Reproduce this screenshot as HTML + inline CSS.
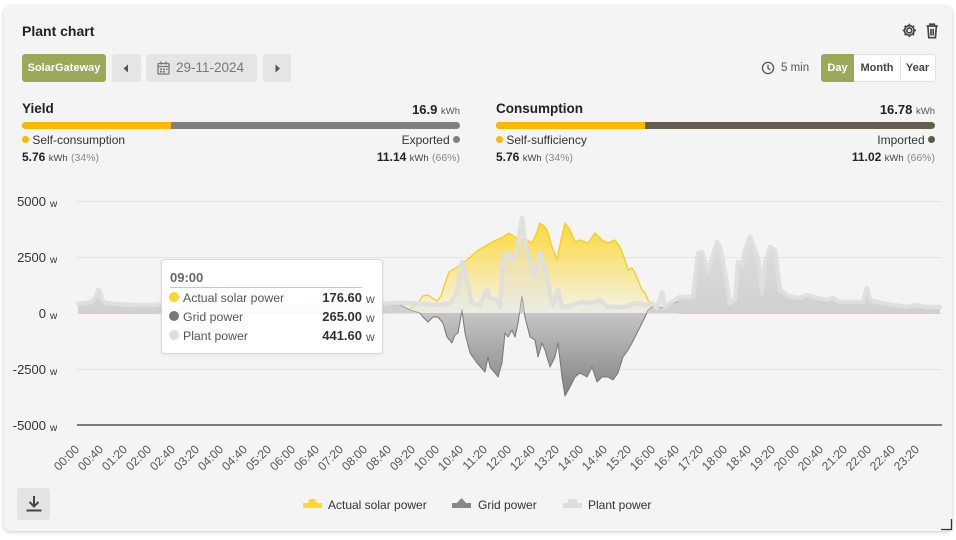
<!DOCTYPE html>
<html><head><meta charset="utf-8">
<style>
*{margin:0;padding:0;box-sizing:border-box}
body{width:956px;height:540px;background:#fff;font-family:"Liberation Sans",Arial,sans-serif;position:relative;overflow:hidden;color:#333}
.card{position:absolute;left:4px;top:6px;width:948px;height:525px;background:#f4f4f4;border-radius:7px;box-shadow:0 1px 4px rgba(0,0,0,0.22)}
.abs{position:absolute;white-space:nowrap}
.btn{position:absolute;top:54px;height:28px;border-radius:3px;background:#e5e5e5}
.b{font-weight:bold}
.dot{display:inline-block;width:7px;height:7px;border-radius:50%;vertical-align:1px}
</style></head><body>
<div class="card"></div>

<div class="abs b" style="left:22px;top:23px;font-size:14px;color:#222">Plant chart</div>
<svg class="abs" style="left:901px;top:22px" width="40" height="18" viewBox="0 0 36 16">
 <g fill="none" stroke="#444" stroke-width="1.5">
  <circle cx="7.5" cy="7.5" r="2.2"/>
  <path d="M7.5 1.5v2M7.5 11.5v2M1.5 7.5h2M11.5 7.5h2M3.3 3.3l1.4 1.4M10.3 10.3l1.4 1.4M3.3 11.7l1.4-1.4M10.3 4.7l1.4-1.4"/>
  <circle cx="7.5" cy="7.5" r="4.3"/>
  <path d="M23 3.5h10M26 3.5v-1.6h4v1.6M24.2 3.5l.8 10.5h6l.8-10.5M27 6v6M29 6v6"/>
 </g>
</svg>

<div class="btn" style="left:22px;width:84px;background:#9ca85a"></div>
<div class="abs b" style="left:22px;top:62px;width:84px;text-align:center;font-size:11px;color:#fff">SolarGateway</div>
<div class="btn" style="left:112px;width:29px"></div>
<svg class="abs" style="left:122px;top:64px" width="8" height="9"><path d="M6 0.5L1.5 4.5L6 8.5Z" fill="#555"/></svg>
<div class="btn" style="left:146px;width:111px"></div>
<svg class="abs" style="left:157px;top:61px" width="13" height="14" viewBox="0 0 13 14"><g fill="none" stroke="#777" stroke-width="1.3"><rect x="1" y="2.5" width="11" height="10.5" rx="1"/><path d="M1 5.5h11M4 0.5v3M9 0.5v3"/></g><g fill="#777"><rect x="3" y="7.5" width="2" height="1.6"/><rect x="6" y="7.5" width="2" height="1.6"/><rect x="9" y="7.5" width="1.5" height="1.6"/><rect x="3" y="10" width="2" height="1.6"/><rect x="6" y="10" width="2" height="1.6"/></g></svg>
<div class="abs" style="left:176px;top:60px;font-size:13.5px;color:#777">29-11-2024</div>
<div class="btn" style="left:263px;width:28px"></div>
<svg class="abs" style="left:274px;top:64px" width="8" height="9"><path d="M1.5 0.5L6 4.5L1.5 8.5Z" fill="#555"/></svg>

<svg class="abs" style="left:761px;top:61px" width="14" height="14"><g fill="none" stroke="#555" stroke-width="1.3"><circle cx="7" cy="7" r="5.6"/><path d="M7 3.8V7.3l2.3 1.5"/></g></svg>
<div class="abs" style="left:781px;top:62px;font-size:11.5px;color:#555">5 min</div>
<div class="abs" style="left:821px;top:54px;width:115px;height:28px;background:#fff;border:1px solid #e2e2e2;border-radius:3px"></div>
<div class="abs" style="left:821px;top:54px;width:33px;height:28px;background:#9ca85a;border-radius:3px 0 0 3px"></div>
<div class="abs" style="left:900px;top:55px;width:1px;height:26px;background:#e6e6e6"></div>
<div class="abs b" style="left:821px;top:62px;width:33px;text-align:center;font-size:11px;color:#fff">Day</div>
<div class="abs b" style="left:854px;top:62px;width:46px;text-align:center;font-size:11px;color:#444">Month</div>
<div class="abs b" style="left:900px;top:62px;width:35px;text-align:center;font-size:11px;color:#444">Year</div>

<!-- Yield -->
<div class="abs b" style="left:22px;top:101px;font-size:13.5px;color:#222">Yield</div>
<div class="abs" style="right:496px;top:102px;font-size:13px;color:#222"><span class="b">16.9</span> <span style="font-size:9.5px;color:#555">kWh</span></div>
<div class="abs" style="left:22px;top:122px;width:438px;height:7px;border-radius:4px;background:#7f7f7f;overflow:hidden"><div style="width:149px;height:7px;background:#f8b900"></div></div>
<div class="abs" style="left:22px;top:133px;font-size:12px;color:#333"><span class="dot" style="background:#f8b900"></span> Self-consumption</div>
<div class="abs" style="right:496px;top:133px;font-size:12px;color:#333">Exported <span class="dot" style="background:#7f7f7f"></span></div>
<div class="abs" style="left:22px;top:150px;font-size:12px;color:#222"><span class="b">5.76</span> <span style="font-size:9.5px;color:#444">kWh</span> <span style="font-size:10.5px;color:#888">(34%)</span></div>
<div class="abs" style="right:496px;top:150px;font-size:12px;color:#222"><span class="b">11.14</span> <span style="font-size:9.5px;color:#444">kWh</span> <span style="font-size:10.5px;color:#888">(66%)</span></div>

<!-- Consumption -->
<div class="abs b" style="left:496px;top:101px;font-size:13.5px;color:#222">Consumption</div>
<div class="abs" style="right:21px;top:102px;font-size:13px;color:#222"><span class="b">16.78</span> <span style="font-size:9.5px;color:#555">kWh</span></div>
<div class="abs" style="left:496px;top:122px;width:439px;height:7px;border-radius:4px;background:#655e4c;overflow:hidden"><div style="width:149px;height:7px;background:#f8b900"></div></div>
<div class="abs" style="left:496px;top:133px;font-size:12px;color:#333"><span class="dot" style="background:#f8b900"></span> Self-sufficiency</div>
<div class="abs" style="right:21px;top:133px;font-size:12px;color:#333">Imported <span class="dot" style="background:#5f594b"></span></div>
<div class="abs" style="left:496px;top:150px;font-size:12px;color:#222"><span class="b">5.76</span> <span style="font-size:9.5px;color:#444">kWh</span> <span style="font-size:10.5px;color:#888">(34%)</span></div>
<div class="abs" style="right:21px;top:150px;font-size:12px;color:#222"><span class="b">11.02</span> <span style="font-size:9.5px;color:#444">kWh</span> <span style="font-size:10.5px;color:#888">(66%)</span></div>

<!-- Chart -->
<svg class="abs" style="left:0;top:0" width="956" height="540" viewBox="0 0 956 540">
 <defs>
  <linearGradient id="gs" gradientUnits="userSpaceOnUse" x1="0" y1="220" x2="0" y2="313">
   <stop offset="0" stop-color="#fdd835" stop-opacity="1"/>
   <stop offset="1" stop-color="#fdd835" stop-opacity="0.06"/>
  </linearGradient>
  <linearGradient id="gg" gradientUnits="userSpaceOnUse" x1="0" y1="235" x2="0" y2="400">
   <stop offset="0" stop-color="#dcdcdc"/>
   <stop offset="0.47" stop-color="#c6c6c6"/>
   <stop offset="1" stop-color="#7f7f7f"/>
  </linearGradient>
 </defs>
 <g stroke="#e4e4e4" stroke-width="1">
  <path d="M77 201.5H942M77 257.5H942M77 313.5H942M77 369.5H942"/>
 </g>
 <path d="M77 425H942" stroke="#555" stroke-width="1.6"/>
 <g font-size="13" fill="#333" text-anchor="end">
  <text x="46" y="206">5000</text><text x="46" y="262">2500</text><text x="46" y="318">0</text><text x="46" y="374">-2500</text><text x="46" y="430">-5000</text>
 </g>
 <g font-size="10" fill="#333">
  <text x="50" y="207">w</text><text x="50" y="263">w</text><text x="50" y="319">w</text><text x="50" y="375">w</text><text x="50" y="431">w</text>
 </g>

 <!-- solar area -->
 <path fill="url(#gs)" d="M78,313 L390,312.5 400,311 410,309 418,303 423,296 428,295 432,298 437,301 441,296 445,283 449,272 457,267 467,260 477,251 490,243 503,237 509,233 515,237 523,240 527,240 532,243 537,232 540,223 544,226 547,230 552,247 557,260 561,240 565,223 570,230 575,242 580,240 588,243 595,233 602,240 608,243 615,240 620,247 625,260 628,270 632,268 635,273 638,280 642,290 645,293 648,300 652,307 658,308 668,311 680,313 940,313 Z"/>
 <polyline fill="none" stroke="#f4cd24" stroke-width="1.3" stroke-linejoin="round" points="78,313 390,312.5 400,311 410,309 418,303 423,296 428,295 432,298 437,301 441,296 445,283 449,272 457,267 467,260 477,251 490,243 503,237 509,233 515,237 523,240 527,240 532,243 537,232 540,223 544,226 547,230 552,247 557,260 561,240 565,223 570,230 575,242 580,240 588,243 595,233 602,240 608,243 615,240 620,247 625,260 628,270 632,268 635,273 638,280 642,290 645,293 648,300 652,307 658,308 668,311 680,313 940,313"/>

 <!-- grid area -->
 <path fill="url(#gg)" d="M78,313 L78,306 86,305 92,304 96,298 98,292 100,294 102,302 106,305 116,306 130,306 150,306 170,306 190,306 210,306 216,299 219,286 222,288 224,299 228,306 250,306 270,306 290,307 310,306 325,306 332,302 337,285 341,290 344,285 348,292 351,305 360,306 380,306 390,305 400,305 410,310 420,313 423,317 428,322 433,317 438,317 443,323 447,337 452,343 455,335 458,333 462,310 465,333 470,353 477,363 485,372 488,357 490,367 495,373 498,377 502,363 505,333 508,337 512,330 515,337 518,323 522,296 525,317 530,337 535,340 538,357 542,343 545,350 550,367 555,357 558,343 562,377 565,396 570,387 575,377 580,373 587,377 592,367 597,382 602,377 608,377 613,380 618,373 623,357 628,350 632,343 637,333 642,323 645,317 648,310 652,307 658,308 665,307 670,304 680,298 693,298 698,254 702,253 708,273 717,243 720,248 725,274 730,304 735,301 738,263 742,266 745,251 750,238 755,251 758,259 762,294 765,264 770,248 775,251 780,291 787,296 793,298 800,299 807,296 813,298 827,301 833,299 840,303 853,303 863,303 867,289 870,301 877,303 893,306 907,308 917,306 927,308 940,308 L940,313 Z"/>
 <polyline fill="none" stroke="#777" stroke-width="1" stroke-linejoin="round" points="390,305 400,305 410,310 420,313 423,317 428,322 433,317 438,317 443,323 447,337 452,343 455,335 458,333 462,310 465,333 470,353 477,363 485,372 488,357 490,367 495,373 498,377 502,363 505,333 508,337 512,330 515,337 518,323 522,296 525,317 530,337 535,340 538,357 542,343 545,350 550,367 555,357 558,343 562,377 565,396 570,387 575,377 580,373 587,377 592,367 597,382 602,377 608,377 613,380 618,373 623,357 628,350 632,343 637,333 642,323 645,317 648,310 652,307 658,308 665,307 670,304 678,302"/>

 <!-- plant area -->
 <path fill="#e2e2e2" fill-opacity="0.4" d="M78,313 L78,304 86,303 92,302 96,296 98,290 100,292 102,300 106,303 116,304 130,305 150,305 170,304 190,305 210,304 216,297 219,283 222,285 224,297 228,304 250,305 270,305 290,306 310,305 325,305 332,300 337,282 341,288 344,282 348,290 351,303 360,305 380,305 390,303 410,303 425,304 440,305 450,303 457,293 462,262 467,280 472,303 480,305 487,290 490,298 497,300 500,307 503,257 507,253 512,260 517,250 522,218 525,240 527,250 530,262 535,275 540,253 545,267 550,293 553,305 558,290 562,307 572,305 582,302 592,303 600,300 608,307 625,307 635,303 645,305 652,303 657,308 662,292 665,307 670,303 680,297 693,297 698,253 702,252 708,272 717,242 720,247 725,273 730,303 735,300 738,262 742,265 745,250 750,237 755,250 758,258 762,293 765,263 770,247 775,250 780,290 787,295 793,297 800,298 807,295 813,297 827,300 833,298 840,302 853,302 863,302 867,288 870,300 877,302 893,305 907,307 917,305 927,307 940,307 L940,313 Z"/>
 <polyline fill="none" stroke="#dedede" stroke-opacity="0.95" stroke-width="4.5" stroke-linejoin="round" stroke-linecap="round" points="78,304 86,303 92,302 96,296 98,290 100,292 102,300 106,303 116,304 130,305 150,305 170,304 190,305 210,304 216,297 219,283 222,285 224,297 228,304 250,305 270,305 290,306 310,305 325,305 332,300 337,282 341,288 344,282 348,290 351,303 360,305 380,305 390,303 410,303 425,304 440,305 450,303 457,293 462,262 467,280 472,303 480,305 487,290 490,298 497,300 500,307 503,257 507,253 512,260 517,250 522,218 525,240 527,250 530,262 535,275 540,253 545,267 550,293 553,305 558,290 562,307 572,305 582,302 592,303 600,300 608,307 625,307 635,303 645,305 652,303 657,308 662,292 665,307 670,303 680,297 693,297 698,253 702,252 708,272 717,242 720,247 725,273 730,303 735,300 738,262 742,265 745,250 750,237 755,250 758,258 762,293 765,263 770,247 775,250 780,290 787,295 793,297 800,298 807,295 813,297 827,300 833,298 840,302 853,302 863,302 867,288 870,300 877,302 893,305 907,307 917,305 927,307 940,307"/>

 <!-- x labels -->
 <g font-size="12" fill="#555" text-anchor="end">
  <text x="80" y="450" transform="rotate(-45 80 450)">00:00</text>
  <text x="104" y="450" transform="rotate(-45 104 450)">00:40</text>
  <text x="128" y="450" transform="rotate(-45 128 450)">01:20</text>
  <text x="152" y="450" transform="rotate(-45 152 450)">02:00</text>
  <text x="176" y="450" transform="rotate(-45 176 450)">02:40</text>
  <text x="200" y="450" transform="rotate(-45 200 450)">03:20</text>
  <text x="224" y="450" transform="rotate(-45 224 450)">04:00</text>
  <text x="248" y="450" transform="rotate(-45 248 450)">04:40</text>
  <text x="272" y="450" transform="rotate(-45 272 450)">05:20</text>
  <text x="296" y="450" transform="rotate(-45 296 450)">06:00</text>
  <text x="320" y="450" transform="rotate(-45 320 450)">06:40</text>
  <text x="344" y="450" transform="rotate(-45 344 450)">07:20</text>
  <text x="368" y="450" transform="rotate(-45 368 450)">08:00</text>
  <text x="392" y="450" transform="rotate(-45 392 450)">08:40</text>
  <text x="416" y="450" transform="rotate(-45 416 450)">09:20</text>
  <text x="440" y="450" transform="rotate(-45 440 450)">10:00</text>
  <text x="464" y="450" transform="rotate(-45 464 450)">10:40</text>
  <text x="488" y="450" transform="rotate(-45 488 450)">11:20</text>
  <text x="512" y="450" transform="rotate(-45 512 450)">12:00</text>
  <text x="536" y="450" transform="rotate(-45 536 450)">12:40</text>
  <text x="560" y="450" transform="rotate(-45 560 450)">13:20</text>
  <text x="584" y="450" transform="rotate(-45 584 450)">14:00</text>
  <text x="608" y="450" transform="rotate(-45 608 450)">14:40</text>
  <text x="632" y="450" transform="rotate(-45 632 450)">15:20</text>
  <text x="656" y="450" transform="rotate(-45 656 450)">16:00</text>
  <text x="680" y="450" transform="rotate(-45 680 450)">16:40</text>
  <text x="704" y="450" transform="rotate(-45 704 450)">17:20</text>
  <text x="728" y="450" transform="rotate(-45 728 450)">18:00</text>
  <text x="752" y="450" transform="rotate(-45 752 450)">18:40</text>
  <text x="776" y="450" transform="rotate(-45 776 450)">19:20</text>
  <text x="800" y="450" transform="rotate(-45 800 450)">20:00</text>
  <text x="824" y="450" transform="rotate(-45 824 450)">20:40</text>
  <text x="848" y="450" transform="rotate(-45 848 450)">21:20</text>
  <text x="872" y="450" transform="rotate(-45 872 450)">22:00</text>
  <text x="896" y="450" transform="rotate(-45 896 450)">22:40</text>
  <text x="920" y="450" transform="rotate(-45 920 450)">23:20</text>
 </g>

 <!-- legend -->
 <rect x="303" y="503" width="19" height="5" fill="#fdd835"/>
 <circle cx="312.5" cy="503" r="4.5" fill="#fdd835"/>
 <rect x="452" y="503" width="19" height="5" fill="#888"/>
 <path d="M461.5 498l4.5 5-4.5 4.5-4.5-4.5Z" fill="#888"/>
 <rect x="563" y="503" width="19" height="5" fill="#ddd"/>
 <rect x="568" y="499" width="9" height="8" fill="#ddd"/>
 <g font-size="12" fill="#333">
  <text x="328" y="509">Actual solar power</text>
  <text x="478" y="509">Grid power</text>
  <text x="588" y="509">Plant power</text>
 </g>

 <!-- resize corner -->
 <path d="M951.5 519v10.5H941" fill="none" stroke="#333" stroke-width="1.3"/>
</svg>

<!-- tooltip -->
<div class="abs" style="left:161px;top:259px;width:222px;height:95px;background:rgba(255,255,255,0.93);border:1px solid #dadada;border-radius:4px;box-shadow:0 1px 3px rgba(0,0,0,0.08)"></div>
<div class="abs b" style="left:170px;top:270px;font-size:13px;color:#666">09:00</div>
<div class="abs" style="left:170px;top:287px;width:192px;height:1px;background:#c8c8c8"></div>
<svg class="abs" style="left:168px;top:290px" width="14" height="52"><circle cx="6" cy="7" r="5" fill="#fcd52e"/><circle cx="6" cy="26" r="5" fill="#777"/><circle cx="6" cy="45" r="5" fill="#ddd"/></svg>
<div class="abs" style="left:183px;top:289px;font-size:12.3px;color:#555;line-height:19px">Actual solar power<br>Grid power<br>Plant power</div>
<div class="abs b" style="right:594px;top:288px;font-size:13px;color:#333;line-height:19px;text-align:right">176.60<br>265.00<br>441.60</div>
<div class="abs" style="left:366px;top:290px;font-size:12px;color:#555;line-height:19px">w<br>w<br>w</div>

<!-- download -->
<div class="abs" style="left:17px;top:488px;width:33px;height:32px;background:#e4e4e4;border-radius:3px"></div>
<svg class="abs" style="left:24px;top:494px" width="20" height="20"><g fill="none" stroke="#444" stroke-width="2"><path d="M10 2v10M5.5 8l4.5 4.5L14.5 8"/><path d="M2.5 16.5h15"/></g></svg>
</body></html>
